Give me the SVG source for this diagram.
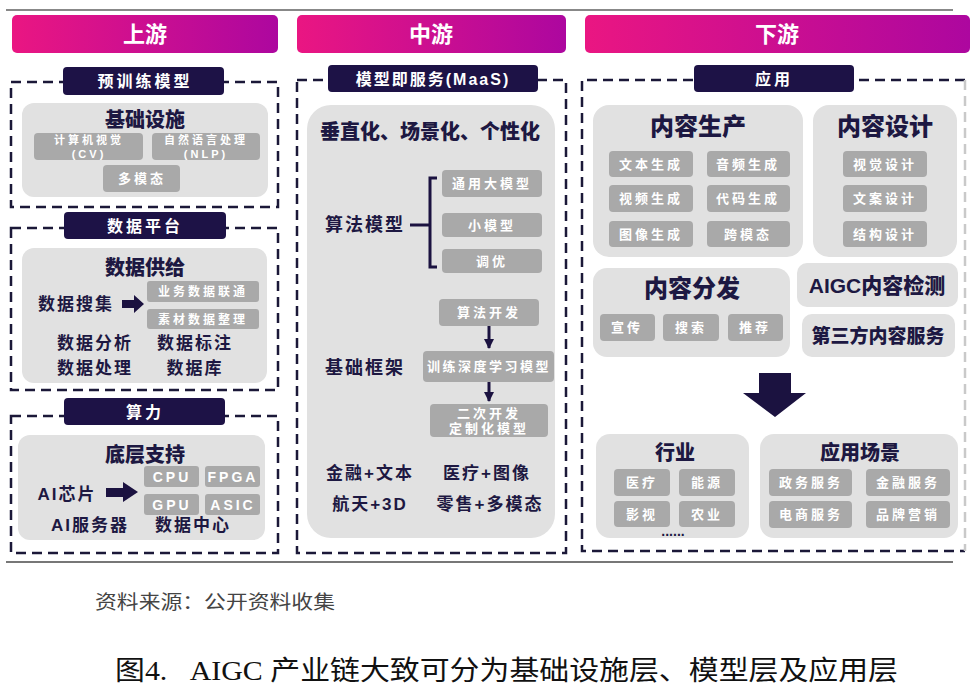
<svg xmlns="http://www.w3.org/2000/svg" width="975" height="693" viewBox="0 0 975 693">
<defs>
<linearGradient id="hg" x1="0" y1="0" x2="1" y2="0">
<stop offset="0" stop-color="#ea1682"/>
<stop offset="1" stop-color="#ad079f"/>
</linearGradient>
<marker id="ah" viewBox="0 0 10 10" refX="9" refY="5" markerWidth="3.4" markerHeight="3.4" orient="auto">
<path d="M0,0 L10,5 L0,10 z" fill="#1b1240"/>
</marker>
</defs>
<style>
text{font-family:"Liberation Sans","Noto Sans CJK SC",sans-serif;text-anchor:middle}
.hdr{fill:url(#hg)}
.ht{fill:#fff;font-size:22px;font-weight:bold}
.dash{fill:none;stroke:#1b1838;stroke-width:2.5;stroke-dasharray:10 6}
.lab{fill:#1d1246}
.lt{fill:#fff;font-size:16px;font-weight:bold;letter-spacing:3px}
.pan{fill:#e1e1e1}
.it{fill:#a9a9a9}
.itt{fill:#fff;font-size:13px;font-weight:bold;letter-spacing:3px}
.tt{fill:#1d1842;font-size:20px;font-weight:900}
.bt{fill:#1d1842;font-size:24px;font-weight:900}
.nt{fill:#1d1842;font-size:17px;font-weight:bold;letter-spacing:2px}
.ln{stroke:#1b1240;stroke-width:3;fill:none}
</style>
<line x1="6" y1="10" x2="953" y2="10" stroke="#888" stroke-width="2"/>
<line x1="6" y1="562" x2="953" y2="562" stroke="#777" stroke-width="2"/>

<g id="hdr-up"><rect class="hdr" x="12" y="15" width="266" height="38" rx="5"/><text class="ht" x="145" y="42">上游</text></g>
<g id="hdr-mid"><rect class="hdr" x="297" y="15" width="269" height="38" rx="5"/><text class="ht" x="431" y="42">中游</text></g>
<g id="hdr-down"><rect class="hdr" x="585" y="15" width="385" height="38" rx="5"/><text class="ht" x="777" y="42">下游</text></g>

<!-- Left column -->
<g id="pretrain">
<rect class="dash" x="11" y="82" width="267" height="125"/>
<rect class="lab" x="63" y="67" width="161" height="28" rx="4"/>
<text class="lt" x="145" y="87">预训练模型</text>
<rect class="pan" x="22" y="103" width="246" height="94" rx="12"/>
<text class="tt" x="145" y="127">基础设施</text>
<rect class="it" x="34" y="133" width="109" height="27" rx="4"/>
<text class="itt" x="89" y="144" style="font-size:11px">计算机视觉</text>
<text class="itt" x="89" y="158" style="font-size:11px">(CV)</text>
<rect class="it" x="152" y="133" width="108" height="27" rx="4"/>
<text class="itt" x="206" y="144" style="font-size:11px">自然语言处理</text>
<text class="itt" x="206" y="158" style="font-size:11px">(NLP)</text>
<rect class="it" x="103" y="165" width="77" height="27" rx="4"/>
<text class="itt" x="142" y="183">多模态</text>
</g>

<g id="dataplat">
<rect class="dash" x="11" y="228" width="267" height="162"/>
<rect class="lab" x="64" y="212" width="162" height="27" rx="4"/>
<text class="lt" x="145" y="232">数据平台</text>
<rect class="pan" x="22" y="248" width="245" height="135" rx="12"/>
<text class="tt" x="145" y="275">数据供给</text>
<rect class="it" x="147" y="281" width="112" height="21" rx="3"/>
<text class="itt" x="203" y="296" style="font-size:12px">业务数据联通</text>
<rect class="it" x="147" y="309" width="112" height="20" rx="3"/>
<text class="itt" x="203" y="324" style="font-size:12px">素材数据整理</text>
<text class="nt" x="76" y="310">数据搜集</text>
<polygon points="122,300 134,300 134,295 144,304 134,313 134,308 122,308" fill="#1b1240"/>
<text class="nt" x="95" y="349">数据分析</text>
<text class="nt" x="195" y="349">数据标注</text>
<text class="nt" x="95" y="374">数据处理</text>
<text class="nt" x="195" y="374">数据库</text>
</g>

<g id="compute">
<rect class="dash" x="11" y="416" width="267" height="137"/>
<rect class="lab" x="64" y="398" width="161" height="27" rx="4"/>
<text class="lt" x="145" y="418">算力</text>
<rect class="pan" x="18" y="435" width="247" height="105" rx="12"/>
<text class="tt" x="145" y="462">底层支持</text>
<rect class="it" x="144" y="466" width="55" height="21" rx="3"/>
<text class="itt" x="172" y="482" style="font-size:14px">CPU</text>
<rect class="it" x="205" y="466" width="55" height="21" rx="3"/>
<text class="itt" x="233" y="482" style="font-size:14px">FPGA</text>
<rect class="it" x="144" y="494" width="55" height="21" rx="3"/>
<text class="itt" x="172" y="510" style="font-size:14px">GPU</text>
<rect class="it" x="205" y="494" width="55" height="21" rx="3"/>
<text class="itt" x="233" y="510" style="font-size:14px">ASIC</text>
<text class="nt" x="67" y="500">AI芯片</text>
<polygon points="106,488 123,488 123,482 138,492 123,502 123,497 106,497" fill="#1b1240"/>
<text class="nt" x="90" y="531">AI服务器</text>
<text class="nt" x="193" y="531">数据中心</text>
</g>

<!-- Middle column -->
<g id="maas">
<rect class="dash" x="297" y="80" width="269" height="473"/>
<rect class="lab" x="328" y="65" width="210" height="27" rx="4"/>
<text class="lt" x="433" y="85" style="letter-spacing:2px">模型即服务(MaaS)</text>
<rect class="pan" x="307" y="105" width="248" height="433" rx="24"/>
<text class="tt" x="430" y="139">垂直化、场景化、个性化</text>
<text class="nt" x="365" y="231" style="font-size:18px">算法模型</text>
<text class="nt" x="365" y="374" style="font-size:18px">基础框架</text>
<rect class="it" x="442" y="170" width="100" height="27" rx="4"/>
<text class="itt" x="492" y="188">通用大模型</text>
<rect class="it" x="442" y="213" width="100" height="24" rx="4"/>
<text class="itt" x="492" y="230">小模型</text>
<rect class="it" x="442" y="249" width="100" height="24" rx="4"/>
<text class="itt" x="492" y="266">调优</text>
<rect class="it" x="439" y="299" width="100" height="27" rx="4"/>
<text class="itt" x="489" y="317">算法开发</text>
<rect class="it" x="423" y="351" width="131" height="31" rx="4"/>
<text class="itt" x="489" y="371" style="letter-spacing:2.5px">训练深度学习模型</text>
<rect class="it" x="430" y="404" width="118" height="33" rx="4"/>
<text class="itt" x="489" y="418">二次开发</text>
<text class="itt" x="489" y="433">定制化模型</text>
<text class="nt" x="370" y="479">金融+文本</text>
<text class="nt" x="487" y="479">医疗+图像</text>
<text class="nt" x="370" y="510">航天+3D</text>
<text class="nt" x="490" y="510">零售+多模态</text>
</g>

<!-- Right column -->
<g id="app">
<path class="dash" d="M965,80 H582 V551 H965"/>
<path d="M965,80 V551" fill="none" stroke="#c9c9c9" stroke-width="2.5" stroke-dasharray="10 6"/>
<rect class="lab" x="694" y="65" width="160" height="27" rx="4"/>
<text class="lt" x="774" y="85">应用</text>
</g>
<g id="prod">
<rect class="pan" x="593" y="105" width="210" height="152" rx="16"/>
<text class="bt" x="698" y="135">内容生产</text>
<rect class="it" x="609" y="151" width="84" height="26" rx="4"/><text class="itt" x="651" y="169">文本生成</text>
<rect class="it" x="707" y="151" width="83" height="26" rx="4"/><text class="itt" x="748" y="169">音频生成</text>
<rect class="it" x="609" y="185" width="84" height="27" rx="4"/><text class="itt" x="651" y="203">视频生成</text>
<rect class="it" x="707" y="185" width="83" height="27" rx="4"/><text class="itt" x="748" y="203">代码生成</text>
<rect class="it" x="609" y="221" width="84" height="26" rx="4"/><text class="itt" x="651" y="239">图像生成</text>
<rect class="it" x="707" y="221" width="83" height="26" rx="4"/><text class="itt" x="748" y="239">跨模态</text>
</g>
<g id="design">
<rect class="pan" x="813" y="105" width="144" height="152" rx="16"/>
<text class="bt" x="885" y="135">内容设计</text>
<rect class="it" x="843" y="151" width="84" height="26" rx="4"/><text class="itt" x="885" y="169">视觉设计</text>
<rect class="it" x="843" y="185" width="84" height="27" rx="4"/><text class="itt" x="885" y="203">文案设计</text>
<rect class="it" x="843" y="221" width="84" height="26" rx="4"/><text class="itt" x="885" y="239">结构设计</text>
</g>
<g id="dist">
<rect class="pan" x="593" y="268" width="197" height="89" rx="14"/>
<text class="bt" x="692" y="297">内容分发</text>
<rect class="it" x="600" y="314" width="55" height="27" rx="4"/><text class="itt" x="627" y="332">宣传</text>
<rect class="it" x="663" y="314" width="56" height="27" rx="4"/><text class="itt" x="691" y="332">搜索</text>
<rect class="it" x="728" y="314" width="55" height="27" rx="4"/><text class="itt" x="755" y="332">推荐</text>
</g>
<g id="detect">
<rect class="pan" x="797" y="263" width="161" height="44" rx="10"/>
<text class="tt" x="877" y="293" style="font-size:21px">AIGC内容检测</text>
</g>
<g id="third">
<rect class="pan" x="802" y="314" width="153" height="43" rx="10"/>
<text class="tt" x="878" y="343" style="font-size:19px">第三方内容服务</text>
</g>
<g id="bigarrow">
<polygon points="759,373 791,373 791,393 806,393 775,417 743,393 759,393" fill="#1b1240"/>
</g>
<g id="industry">
<rect class="pan" x="596" y="434" width="153" height="104" rx="14"/>
<text class="tt" x="675" y="460">行业</text>
<rect class="it" x="614" y="469" width="56" height="27" rx="4"/><text class="itt" x="642" y="487">医疗</text>
<rect class="it" x="679" y="469" width="56" height="27" rx="4"/><text class="itt" x="707" y="487">能源</text>
<rect class="it" x="614" y="501" width="56" height="26" rx="4"/><text class="itt" x="642" y="519">影视</text>
<rect class="it" x="679" y="501" width="56" height="26" rx="4"/><text class="itt" x="707" y="519">农业</text>
<text x="673" y="536" style="fill:#1d1842;font-size:14px;font-weight:bold">......</text>
</g>
<g id="scene">
<rect class="pan" x="760" y="434" width="198" height="104" rx="14"/>
<text class="tt" x="860" y="460">应用场景</text>
<rect class="it" x="769" y="469" width="83" height="27" rx="4"/><text class="itt" x="811" y="487">政务服务</text>
<rect class="it" x="866" y="469" width="84" height="27" rx="4"/><text class="itt" x="908" y="487">金融服务</text>
<rect class="it" x="769" y="501" width="83" height="27" rx="4"/><text class="itt" x="811" y="519">电商服务</text>
<rect class="it" x="866" y="501" width="84" height="27" rx="4"/><text class="itt" x="908" y="519">品牌营销</text>
</g>

<g id="connectors">
<line class="ln" x1="410" y1="225" x2="430" y2="225"/>
<path class="ln" d="M437,178 H430 V267 H437"/>
<line class="ln" x1="489" y1="326" x2="489" y2="348" marker-end="url(#ah)"/>
<line class="ln" x1="489" y1="382" x2="489" y2="401" marker-end="url(#ah)"/>
</g>

<text x="95" y="609" style="text-anchor:start;fill:#444;font-size:19px" textLength="240" lengthAdjust="spacingAndGlyphs">资料来源：公开资料收集</text>
<text x="115" y="680" xml:space="preserve" style="text-anchor:start;fill:#111;font-size:27px;white-space:pre;font-family:'Liberation Serif','Noto Sans CJK SC',serif" textLength="783" lengthAdjust="spacingAndGlyphs">图4.   AIGC 产业链大致可分为基础设施层、模型层及应用层</text>
</svg>
